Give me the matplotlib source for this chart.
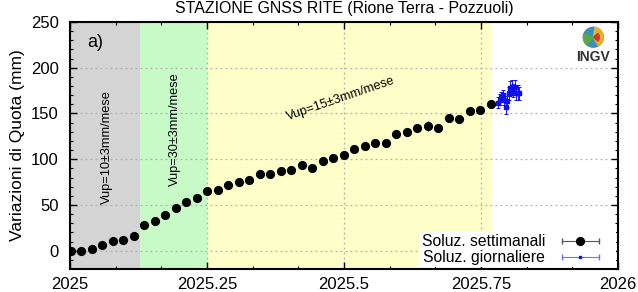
import numpy as np
import matplotlib
matplotlib.use("Agg")
import matplotlib.pyplot as plt
from matplotlib.ticker import MultipleLocator
from matplotlib.patches import Circle, Wedge
from matplotlib.legend_handler import HandlerErrorbar
from matplotlib.container import ErrorbarContainer

plt.rcParams['font.family'] = ['Liberation Sans', 'DejaVu Sans']

# Weekly solutions (mm)
weekly_vals = [-0.8, 0.0, 1.4, 5.8, 10.5, 12.0, 16.0, 28.0, 32.9, 39.4, 46.7, 53.2,
               58.0, 65.3, 66.8, 71.5, 75.1, 77.8, 83.9, 83.6, 87.6, 88.7, 94.2, 90.5,
               97.8, 100.8, 104.4, 111.5, 114.8, 117.9, 117.2, 128.1, 129.9, 133.6,
               135.8, 133.6, 145.2, 143.8, 152.9, 153.7, 159.9]
weekly_err = [2.5, 2.5, 2.5, 2.5, 2.5, 2.5, 2.5, 2.5, 2.5, 2.5, 2.5, 2.5,
              2.5, 2.5, 2.5, 2.5, 2.5, 2.5, 2.5, 2.5, 2.5, 2.5, 2.5, 2.5,
              2.5, 2.5, 2.5, 2.5, 2.5, 2.5, 2.5, 2.5, 2.5, 2.5,
              5.5, 2.5, 3.0, 2.5, 2.5, 2.5, 2.5]
weekly_start = 2025.001

# Daily solutions (mm)
daily_vals = [161.7, 165.0, 168.0, 170.0, 165.0, 156.6, 163.5, 172.0, 177.4, 178.5,
              175.0, 178.5, 172.6, 172.6, 172.0]
daily_err = [6, 6, 6, 6, 6, 7, 6, 7, 8, 8, 7, 8, 8, 8, 7]
daily_start = 2025.781

# Rate periods
periods = [(2025.0, 2025.128, '#d4d4d4'), (2025.128, 2025.25, '#c8fac8'),
           (2025.25, 2025.768, '#fefec8')]

weekly_t = weekly_start + np.arange(len(weekly_vals)) * 7 / 365.25
daily_t = daily_start + np.arange(len(daily_vals)) / 365.25

fig = plt.figure(figsize=(6.38, 2.92), dpi=100)
ax = fig.add_axes([0.1097, 0.0788, 0.8590, 0.8459])

for x0, x1, c in periods:
    ax.axvspan(x0, x1, color=c, zorder=0, lw=0)

ax.grid(True, which='major', color='#b0b0b0', linestyle=(0, (1.5, 2.5)), linewidth=0.9, zorder=1)

ax.errorbar(weekly_t, weekly_vals, yerr=weekly_err, fmt='o', color='black',
            ms=5.6, elinewidth=0.8, capsize=0, zorder=3)
ax.errorbar(daily_t, daily_vals, yerr=daily_err, fmt='s', color='#1010ee',
            ms=2.2, elinewidth=0.7, capsize=1.5, capthick=0.7, zorder=3)

# legend proxies
h1 = ax.errorbar([np.nan], [np.nan], xerr=[1], fmt='o', color='black', ms=5.6,
                 ecolor='#555555', elinewidth=0.8, capsize=2.5, label='Soluz. settimanali')
h2 = ax.errorbar([np.nan], [np.nan], xerr=[1], fmt='s', color='#1010ee', ms=2.0,
                 ecolor='#7070ee', elinewidth=0.8, capsize=2.5, label='Soluz. giornaliere')

ax.set_xlim(2025.0, 2026.0)
ax.set_ylim(-20, 250)
ax.set_xticks([2025, 2025.25, 2025.5, 2025.75, 2026])
ax.set_xticklabels(['2025', '2025.25', '2025.5', '2025.75', '2026'])
ax.xaxis.set_minor_locator(MultipleLocator(1 / 12))
ax.set_yticks([0, 50, 100, 150, 200, 250])
ax.yaxis.set_minor_locator(MultipleLocator(10))
ax.tick_params(which='both', direction='in', top=True, right=True, labelsize=12)
ax.tick_params(which='major', length=5, width=1)
ax.tick_params(which='minor', length=2.5, width=0.8)
ax.tick_params(axis='x', pad=6)
ax.tick_params(axis='y', pad=8)
for s in ax.spines.values():
    s.set_linewidth(1.5)

ax.set_ylabel('Variazioni di Quota (mm)', fontsize=12.5, labelpad=4)
fig.text(0.54, 0.995, 'STAZIONE GNSS RITE (Rione Terra - Pozzuoli)', ha='center', va='top',
         fontsize=11.4)

ax.text(2025.032, 228, 'a)', fontsize=13, va='center', ha='left')
ax.text(2025.068, 113, 'Vup=10\u00b13mm/mese', rotation=90, fontsize=9.2,
        ha='center', va='center')
ax.text(2025.192, 133, 'Vup=30\u00b13mm/mese', rotation=90, fontsize=9.2,
        ha='center', va='center')
ax.text(2025.494, 166, 'Vup=15\u00b13mm/mese', rotation=19, fontsize=9.2,
        ha='center', va='center')

# INGV logo
logo = fig.add_axes([0.9, 0.835, 0.06, 0.075])
logo.set_aspect('equal')
logo.axis('off')
logo.set_xlim(-1.1, 1.1)
logo.set_ylim(-1.1, 1.1)
logo.add_patch(Circle((0, 0), 1, color='#3a8fb7'))
logo.add_patch(Wedge((0, 0), 1, -60, 80, color='#e8b030'))
logo.add_patch(Wedge((0, 0), 0.6, -40, 40, color='#d03a2a'))
logo.add_patch(Wedge((0, 0), 1, 160, 230, color='#5aa84a'))
ax.text(0.955, 0.858, 'INGV', transform=ax.transAxes, fontsize=10,
        fontweight='bold', ha='center', va='center', color='#333333',
        family=['Liberation Sans Narrow', 'Liberation Sans', 'DejaVu Sans'])

leg = ax.legend(handles=[h1, h2], loc='lower right', markerfirst=False, frameon=True,
                fontsize=11.3, handlelength=4.3, borderaxespad=0.1, labelspacing=0.05,
                handletextpad=0.1, fancybox=False, borderpad=0.15,
                handler_map={ErrorbarContainer: HandlerErrorbar(xerr_size=1.2)})
leg.get_frame().set_edgecolor('none')
leg.get_frame().set_facecolor('white')
leg.get_frame().set_alpha(1)

fig.savefig('out.png', dpi=100)
